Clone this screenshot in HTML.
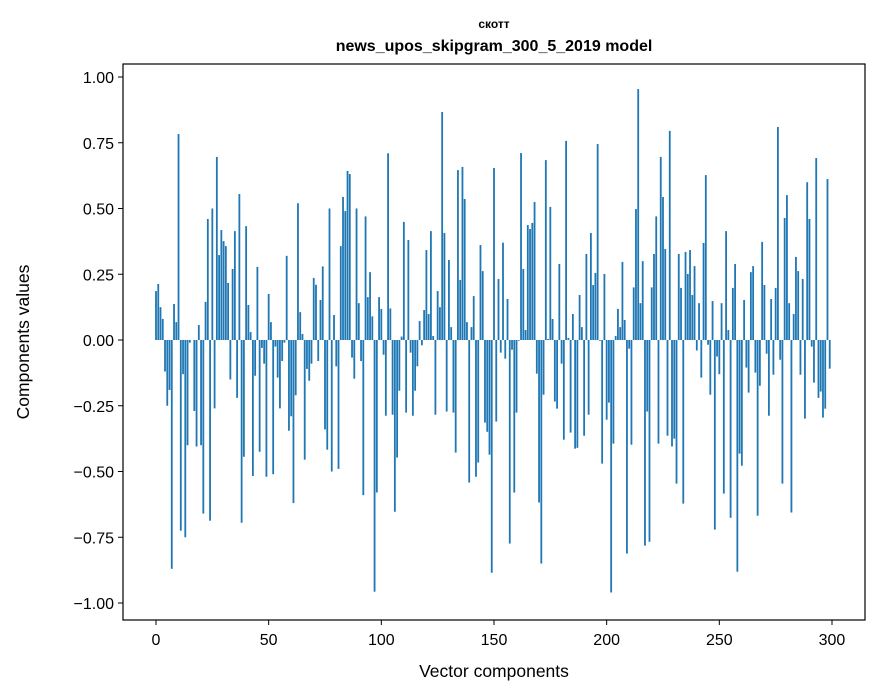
<!DOCTYPE html>
<html><head><meta charset="utf-8"><style>
body{margin:0;background:#fff}
svg{display:block;font-family:"Liberation Sans","DejaVu Sans",sans-serif}
</style></head><body>
<svg id="chart" width="880" height="696" viewBox="0 0 880 696">
<rect width="880" height="696" fill="#fff"/>
<text x="494" y="28" text-anchor="middle" font-size="12" font-weight="bold">скотт</text>
<text x="494" y="51" text-anchor="middle" font-size="16" font-weight="bold">news_upos_skipgram_300_5_2019 model</text>
<g id="bars"></g>
<g id="axes"></g>
<rect x="123" y="64" width="742" height="556" fill="none" stroke="#000" stroke-width="1.2"/>
<text x="494" y="677" text-anchor="middle" font-size="17.5">Vector components</text>
<text transform="translate(29,342) rotate(-90)" text-anchor="middle" font-size="17.5">Components values</text>
</svg>
<script>
const values = [0.186,0.213,0.125,0.08,-0.12,-0.25,-0.19,-0.87,0.137,0.068,0.783,-0.725,-0.13,-0.75,-0.40,-0.01,0,-0.27,-0.405,0.057,-0.40,-0.66,0.145,0.46,-0.687,0.50,-0.26,0.696,0.323,0.418,0.376,0.357,0.217,-0.15,0.27,0.414,-0.22,0.555,-0.695,-0.444,0.433,0.133,0.03,-0.517,-0.136,0.278,-0.425,-0.03,-0.09,
-0.52,0.175,0.068,-0.51,-0.025,-0.143,-0.26,-0.08,-0.01,0.32,-0.345,-0.29,-0.62,-0.21,0.52,0.106,0.023,-0.455,-0.11,-0.155,-0.09,0.236,0.21,-0.08,0.152,0.28,-0.34,-0.417,0.50,-0.5,0.095,-0.10,-0.49,0.357,0.544,0.49,0.643,0.631,-0.067,-0.147,0.50,0.14,-0.08,-0.59,0.47,0.163,0.258,0.09,-0.957,-0.58,
0.163,0.118,-0.056,-0.288,0.71,0.12,-0.284,-0.653,-0.447,-0.193,0.013,0.449,-0.276,0.38,-0.048,-0.288,-0.193,-0.10,0.072,-0.02,0.114,0.342,0.099,0.414,0.015,-0.284,0.186,0.125,0.867,0.407,-0.272,0.304,0.049,-0.276,-0.428,0.646,0.228,0.658,0.536,0.068,-0.542,0.049,0.167,-0.52,-0.466,0.361,0.262,-0.314,-0.349,-0.436,
-0.885,0.654,-0.31,0.232,-0.048,0.37,-0.071,0.156,-0.774,-0.037,-0.58,-0.276,-0.003,0.711,0.27,0.038,0.437,0.422,0.445,0.525,-0.128,-0.618,-0.85,-0.208,0.684,0.004,0.506,0.08,-0.234,-0.261,0.289,-0.09,-0.379,0.757,0.008,-0.352,0.099,-0.413,-0.41,0.171,0.049,-0.364,0.327,-0.284,0.407,0.209,0.255,0.745,-0.003,-0.47,
0.251,-0.303,-0.238,-0.96,-0.394,0.015,0.118,0.049,0.297,0.076,-0.812,-0.033,-0.398,0.2,0.498,0.954,0.14,0.30,-0.782,-0.272,-0.767,0.20,0.327,0.47,-0.394,0.696,0.544,0.346,-0.364,0.795,-0.405,-0.375,-0.546,0.327,0.198,-0.622,0.335,0.251,0.342,0.171,0.281,-0.04,0.14,-0.143,0.369,0.627,-0.018,-0.208,0.148,-0.721,
-0.063,-0.13,0.14,-0.584,0.414,0.038,-0.676,0.198,0.289,-0.881,-0.432,-0.478,0.152,-0.105,-0.20,0.258,0.281,-0.124,-0.668,-0.174,0.373,0.209,-0.052,-0.288,0.156,-0.132,0.198,0.81,-0.075,-0.546,0.464,0.551,0.14,-0.656,0.099,0.316,0.262,-0.132,0.232,-0.299,0.60,0.46,-0.025,-0.162,0.692,-0.22,-0.196,-0.295,-0.261,0.612,-0.109];
const xTicks = [0,50,100,150,200,250,300];
const yTicks = [1.0,0.75,0.5,0.25,0,-0.25,-0.5,-0.75,-1.0];
const yTickLabels = ["1.00","0.75","0.50","0.25","0.00","\u22120.25","\u22120.50","\u22120.75","\u22121.00"];

const NS="http://www.w3.org/2000/svg";
function xs(v){return 156+v*2.2533;}
function ys(v){return 340-v*263;}
const bars=document.getElementById('bars');
values.forEach((v,i)=>{
  const r=document.createElementNS(NS,'rect');
  const y0=Math.min(ys(v),ys(0)), h=Math.abs(ys(v)-ys(0));
  r.setAttribute('x',xs(i-0.4));r.setAttribute('width',2.2533*0.8);
  r.setAttribute('y',y0);r.setAttribute('height',Math.max(h,0.01));
  r.setAttribute('fill','#1f77b4');
  
  
  bars.appendChild(r);
});
const axes=document.getElementById('axes');
xTicks.forEach(t=>{
  const l=document.createElementNS(NS,'line');
  l.setAttribute('x1',xs(t));l.setAttribute('x2',xs(t));l.setAttribute('y1',620);l.setAttribute('y2',625);
  l.setAttribute('stroke','#000');
  
  
  axes.appendChild(l);
  const tx=document.createElementNS(NS,'text');
  tx.setAttribute('x',xs(t));tx.setAttribute('y',645);tx.setAttribute('text-anchor','middle');tx.setAttribute('font-size','16');
  tx.textContent=t;
  
  
  axes.appendChild(tx);
});
yTicks.forEach((t,k)=>{
  const l=document.createElementNS(NS,'line');
  l.setAttribute('x1',118);l.setAttribute('x2',123);l.setAttribute('y1',ys(t));l.setAttribute('y2',ys(t));
  l.setAttribute('stroke','#000');
  
  
  axes.appendChild(l);
  const tx=document.createElementNS(NS,'text');
  tx.setAttribute('x',114);tx.setAttribute('y',ys(t)+6);tx.setAttribute('text-anchor','end');tx.setAttribute('font-size','16');
  tx.textContent=yTickLabels[k];
  
  
  axes.appendChild(tx);
});
</script>
</body></html>
